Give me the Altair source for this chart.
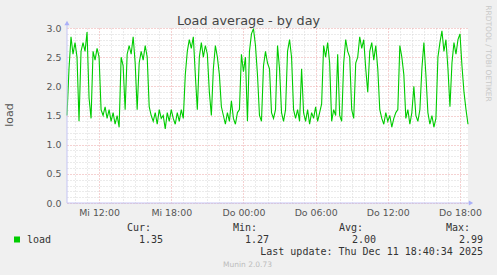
import altair as alt
import pandas as pd

# ---------------- data ----------------
title_text = "Load average - by day"
y_title = "load"
side_text = "RRDTOOL / TOBI OETIKER"
series_name = "load"
stat_headers = ["Cur:", "Min:", "Avg:", "Max:"]
stat_values = ["1.35", "1.27", "2.00", "2.99"]
last_update = "Last update: Thu Dec 11 18:40:34 2025"
footer = "Munin 2.0.73"
weekday_names = {10: "Mi", 11: "Do"}
start_time = "2025-12-10 09:20"
step = "10min"

load_values = [
    1.5, 2.3, 2.85, 2.55, 2.75, 2.5, 1.4, 2.6, 2.75, 2.6, 2.93, 1.8, 1.45,
    2.6, 2.45, 2.65, 2.5, 1.6,
    1.5, 1.65, 1.45, 1.6, 1.4, 1.55, 1.35, 1.5, 1.3,
    2.5, 2.35, 1.6, 2.55, 2.7, 2.55, 2.85, 2.4,
    1.6, 2.4, 2.6, 2.45, 2.7, 2.5, 1.65,
    1.5, 1.4, 1.55, 1.35, 1.6, 1.45, 1.5, 1.27, 1.55, 1.4, 1.6, 1.45, 1.35, 1.55, 1.4, 1.6, 1.45,
    2.2, 2.6, 2.8, 2.65, 2.85, 2.2, 1.6,
    2.5, 2.75, 2.5, 2.7, 2.55, 1.9, 1.5,
    2.3, 2.7, 2.5, 2.2, 1.65,
    1.5, 1.35, 1.55, 1.4, 1.75, 1.45, 1.35, 1.55, 1.6,
    2.55, 2.25, 2.5, 1.4,
    2.6, 2.9, 2.99, 2.7, 2.2, 1.5, 1.4,
    2.35, 2.6, 2.4, 2.3, 1.55, 1.45, 1.6,
    2.7, 2.3, 1.55, 1.4, 1.6,
    2.6, 2.8, 2.5, 1.6, 1.45, 1.6, 1.4, 2.3,
    1.55, 1.4, 1.6, 1.35, 1.55, 1.45, 1.65, 1.4, 1.55, 1.7,
    2.7, 2.5, 2.75, 2.4, 1.4, 1.6, 1.5, 2.55, 1.5, 1.4,
    2.4, 2.8, 2.6, 2.5, 1.6, 1.45,
    2.4, 2.5, 2.85, 2.65, 2.8, 2.3, 1.9,
    2.6, 2.75, 2.45, 2.7, 2.3,
    1.6, 1.45, 1.35, 1.55, 1.4, 1.5, 1.3, 1.45, 1.55, 1.6,
    2.7, 2.5, 2.2, 1.45, 1.6, 1.35, 1.55, 2.0, 1.5, 1.4, 1.6,
    2.3, 2.75, 2.2, 1.55, 1.35, 1.5, 1.3, 1.45,
    2.5, 2.75, 2.95, 2.6, 2.8, 2.3, 1.65,
    2.4, 2.75, 2.55, 2.8, 2.9, 2.35, 1.9, 1.6, 1.35,
]

y_ticks = [round(0.1 * k, 1) for k in range(31)]
x_tick_hours = [(10, h) for h in range(10, 24)] + [(11, h) for h in range(0, 19)]

times = pd.date_range(start_time, periods=len(load_values), freq=step)
df = pd.DataFrame({"time": times.strftime("%Y-%m-%dT%H:%M:%S"), "load": load_values})

# ---------------- style ----------------
GREEN = "#00cc00"
MINOR = "#d6d6d6"
MAJOR = "#eba5a5"
AXISC = "#c4c4f4"
LBL = "#555555"

x_domain = [
    alt.DateTime(year=2025, month=12, date=10, hours=9, minutes=20),
    alt.DateTime(year=2025, month=12, date=11, hours=18, minutes=40),
]
x_values = [alt.DateTime(year=2025, month=12, date=d, hours=h) for d, h in x_tick_hours]

day_expr = " : ".join(
    [f"date(datum.value) == {d} ? '{n}'" for d, n in weekday_names.items()] + ["''"]
)
x_label_expr = (
    f"hours(datum.value) % 6 == 0 ? ({day_expr}) + ' ' + timeFormat(datum.value, '%H:%M') : ''"
)
y_major_test = "abs(datum.value * 2 - round(datum.value * 2)) < 0.001"

line = (
    alt.Chart(df)
    .mark_line(color=GREEN, strokeWidth=1.1)
    .encode(
        x=alt.X(
            "time:T",
            scale=alt.Scale(domain=x_domain, nice=False),
            axis=alt.Axis(
                values=x_values,
                labelExpr=x_label_expr,
                labelOverlap=False,
                labelFlush=False,
                labelFont="DejaVu Sans",
                labelFontSize=9.4,
                labelColor=LBL,
                labelPadding=5,
                ticks=False,
                domain=False,
                title=None,
                grid=True,
                gridDash=[1, 2],
                gridWidth=1,
                gridColor={
                    "condition": {"test": "hours(datum.value) % 6 == 0", "value": MAJOR},
                    "value": MINOR,
                },
            ),
        ),
        y=alt.Y(
            "load:Q",
            scale=alt.Scale(domain=[0, 3], nice=False, zero=True),
            axis=alt.Axis(
                values=y_ticks,
                labelExpr=f"{y_major_test} ? format(datum.value, '.1f') : ''",
                labelOverlap=False,
                labelFlush=False,
                labelFont="DejaVu Sans",
                labelFontSize=9.4,
                labelColor=LBL,
                labelPadding=6,
                ticks=False,
                domain=False,
                title=None,
                grid=True,
                gridDash=[1, 2],
                gridWidth=1,
                gridColor={
                    "condition": {"test": y_major_test, "value": MAJOR},
                    "value": MINOR,
                },
            ),
        ),
    )
)


def text_layer(text, x, y, size=10, font="DejaVu Sans Mono", color="#333333",
               align="left", angle=0, baseline="alphabetic"):
    return (
        alt.Chart(alt.Data(values=[{"t": text}]))
        .mark_text(font=font, fontSize=size, color=color, align=align,
                   angle=angle, baseline=baseline)
        .encode(x=alt.value(x), y=alt.value(y), text="t:N")
    )


one = alt.Data(values=[{"a": 1}])
y_axis_line = alt.Chart(one).mark_rule(color=AXISC, strokeWidth=1).encode(
    x=alt.value(0), y=alt.value(-4), y2=alt.value(175))
x_axis_line = alt.Chart(one).mark_rule(color=AXISC, strokeWidth=1).encode(
    x=alt.value(0), x2=alt.value(403), y=alt.value(175))
y_arrow = alt.Chart(one).mark_point(shape="triangle-up", filled=True, size=26,
                                    color="#aab0f8", opacity=1).encode(
    x=alt.value(0), y=alt.value(-5))
x_arrow = alt.Chart(one).mark_point(shape="triangle-right", filled=True, size=26,
                                    color="#aab0f8", opacity=1).encode(
    x=alt.value(404), y=alt.value(175))

legend_square = alt.Chart(one).mark_point(shape="square", filled=True, size=36,
                                          color=GREEN, opacity=1).encode(
    x=alt.value(-50), y=alt.value(211.5))

header_right = [84, 190, 296, 403]
value_right = [96, 202, 309, 416]

layers = [line, y_axis_line, x_axis_line, y_arrow, x_arrow, legend_square]
layers.append(text_layer(title_text, 181.5, -3.5, size=12.8, font="DejaVu Sans",
                         color="#444444", align="center"))
layers.append(text_layer(y_title, -57, 87, size=11, font="DejaVu Sans", color=LBL,
                         align="center", angle=270, baseline="middle"))
layers.append(text_layer(side_text, 421, 25.5, size=7.5, font="DejaVu Sans",
                         color="#c8c8c8", align="center", angle=90, baseline="middle"))
for h, xr in zip(stat_headers, header_right):
    layers.append(text_layer(h, xr, 203, align="right"))
for v, xr in zip(stat_values, value_right):
    layers.append(text_layer(v, xr, 215, align="right"))
layers.append(text_layer(series_name, -40, 215))
layers.append(text_layer(last_update, 416, 226.5, align="right"))
layers.append(text_layer(footer, 180.5, 239, size=7.5, font="DejaVu Sans",
                         color="#bcbcbc", align="center"))

chart = (
    alt.layer(*layers)
    .properties(
        width=401,
        height=175,
        padding={"left": 67, "top": 28, "right": 29, "bottom": 72},
        autosize=alt.AutoSizeParams(type="none"),
        background="#f0f0f0",
    )
    .configure_view(stroke=None, fill="white")
)

chart.save("out.html", embed_options={"renderer": "svg", "actions": False})
